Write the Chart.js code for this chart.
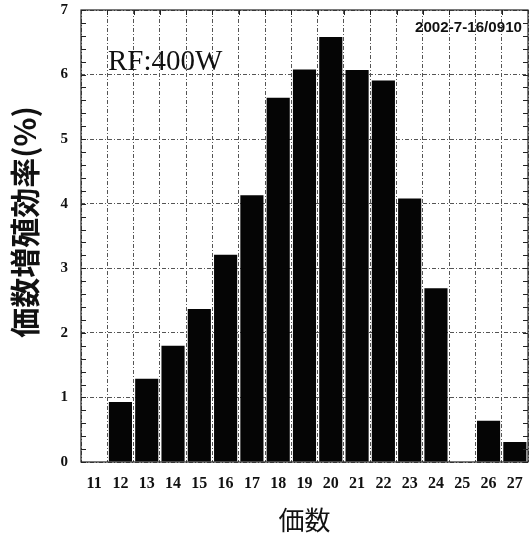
<!DOCTYPE html>
<html>
<head>
<meta charset="utf-8">
<script src="https://cdn.jsdelivr.net/npm/chart.js@4.4.1/dist/chart.umd.min.js"></script>
<style>
  html, body { margin: 0; padding: 0; background: #fff; }
</style>
</head>
<body>
<canvas id="chart" width="529" height="537"></canvas>
<script>
// 価数ごとの増殖効率 (%)
const categories = ['11', '12', '13', '14', '15', '16', '17', '18', '19', '20', '21', '22', '23', '24', '25', '26', '27'];
const rates = [0, 0.93, 1.29, 1.80, 2.37, 3.21, 4.13, 5.64, 6.08, 6.58, 6.07, 5.91, 4.08, 2.69, 0, 0.64, 0.31];
const yTickValues = [0, 1, 2, 3, 4, 5, 6, 7];
const yTitle = '価数増殖効率(%)';
const conditionLabel = 'RF:400W';
const stampLabel = '2002-7-16/0910';

// 枠と内向きの目盛り、注記テキスト
const framePlugin = {
    id: 'frame',
    afterDraw(chart) {
        const ctx = chart.ctx;
        const area = chart.chartArea;
        const x = chart.scales.x;
        const y = chart.scales.y;
        ctx.save();
        ctx.strokeStyle = '#222';
        ctx.lineWidth = 1.2;
        ctx.strokeRect(area.left, area.top, area.right - area.left, area.bottom - area.top);

        // 左右の細かい目盛り (0.2 毎)
        ctx.lineWidth = 1;
        for (let v = 0; v <= 7.001; v += 0.2) {
            const py = Math.round(y.getPixelForValue(v)) + 0.5;
            ctx.beginPath();
            ctx.moveTo(area.left, py);
            ctx.lineTo(area.left + 5, py);
            ctx.moveTo(area.right, py);
            ctx.lineTo(area.right - 5, py);
            ctx.stroke();
        }
        // 上側の目盛り (カテゴリ境界)
        for (let i = 1; i < categories.length; i++) {
            const px = Math.round((x.getPixelForValue(i - 1) + x.getPixelForValue(i)) / 2) + 0.5;
            ctx.beginPath();
            ctx.moveTo(px, area.top);
            ctx.lineTo(px, area.top + 5);
            ctx.stroke();
        }

        ctx.fillStyle = '#111';
        ctx.textBaseline = 'alphabetic';
        ctx.textAlign = 'left';
        ctx.font = '29px "Liberation Serif"';
        ctx.fillText(conditionLabel, area.left + 27, 70);

        // 縦軸タイトル (少し上寄り)
        ctx.save();
        ctx.translate(25, 222);
        ctx.rotate(-Math.PI / 2);
        ctx.textAlign = 'center';
        ctx.textBaseline = 'middle';
        ctx.font = 'bold 30px "Noto Sans CJK JP"';
        ctx.fillText(yTitle, 0, 0);
        ctx.restore();

        ctx.font = 'bold 15px "Liberation Sans"';
        const w = ctx.measureText(stampLabel).width;
        ctx.translate(area.right - 6 - 107, 32);
        ctx.scale(107 / w, 1);
        ctx.fillText(stampLabel, 0, 0);
        ctx.restore();
    }
};

const ctx = document.getElementById('chart').getContext('2d');
new Chart(ctx, {
    type: 'bar',
    data: {
        labels: categories,
        datasets: [{
            data: rates,
            backgroundColor: '#050505',
            borderWidth: 0,
            barPercentage: 0.88,
            categoryPercentage: 1.0
        }]
    },
    options: {
        responsive: false,
        devicePixelRatio: 1,
        animation: false,
        layout: {
            padding: { top: 10, right: 1, left: 0, bottom: 0 }
        },
        plugins: {
            legend: { display: false },
            tooltip: { enabled: false }
        },
        scales: {
            x: {
                offset: true,
                grid: {
                    offset: true,
                    color: '#555',
                    lineWidth: 1,
                    drawTicks: false
                },
                border: { display: false, dash: [4, 2, 1, 2] },
                ticks: {
                    color: '#111',
                    padding: 12,
                    font: { family: '"Liberation Serif"', size: 16, weight: 'bold' }
                },
                title: {
                    display: true,
                    text: '価数',
                    color: '#111',
                    padding: { top: 0, bottom: 1 },
                    font: { family: '"Noto Sans CJK JP"', size: 26 }
                },
                afterFit(scale) {
                    scale.height = 75;
                    scale.paddingLeft = 0;
                    scale.paddingRight = 0;
                }
            },
            y: {
                min: 0,
                max: 7,
                afterBuildTicks(scale) {
                    scale.ticks = yTickValues.map(v => ({ value: v }));
                },
                grid: {
                    color: '#555',
                    lineWidth: 1,
                    drawTicks: false
                },
                border: { display: false, dash: [4, 2, 1, 2] },
                ticks: {
                    color: '#111',
                    padding: 13,
                    font: { family: '"Liberation Serif"', size: 15, weight: 'bold' }
                },
                afterFit(scale) {
                    scale.width = 81;
                    scale.paddingTop = 0;
                    scale.paddingBottom = 0;
                }
            }
        }
    },
    plugins: [framePlugin]
});
</script>
</body>
</html>
